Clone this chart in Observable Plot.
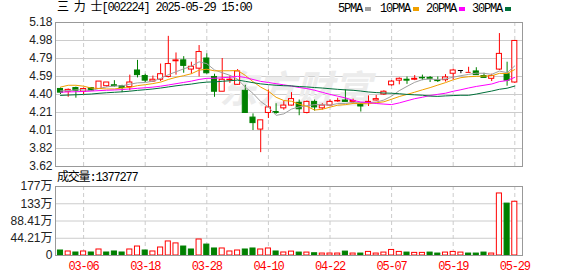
<!DOCTYPE html>
<html><head><meta charset="utf-8">
<script src="https://cdn.jsdelivr.net/npm/d3@7"></script>
<script src="https://cdn.jsdelivr.net/npm/@observablehq/plot@0.6"></script>
<style>
body{margin:0;background:#fff;}
#wrap{position:relative;width:578px;height:276px;overflow:hidden;background:#fff;}
#wrap svg{position:absolute;left:0;overflow:visible;}
.t{position:absolute;white-space:nowrap;font-family:"Liberation Mono","Noto Sans CJK SC",monospace;font-size:12px;line-height:12px;letter-spacing:-1.2px;color:#000;}
.sq{position:absolute;width:6px;height:4px;}
</style></head><body><div id="wrap"></div>
<script>
// ---- data ----
const dates = ["03-03","03-04","03-05","03-06","03-07","03-10","03-11","03-12","03-13","03-14","03-17","03-18","03-19","03-20","03-21","03-24","03-25","03-26","03-27","03-28","03-31",
"04-01","04-02","04-03","04-07","04-08","04-09","04-10","04-11","04-14","04-15","04-16","04-17","04-18","04-21","04-22","04-23","04-24","04-25","04-28","04-29","04-30",
"05-06","05-07","05-08","05-09","05-12","05-13","05-14","05-15","05-16","05-19","05-20","05-21","05-22","05-23","05-26","05-27","05-28","05-29"];
const open  = [4.46,4.43,4.47,4.43,4.47,4.46,4.49,4.50,4.49,4.48, 4.66,4.60,4.54,4.56,4.59,4.76,4.77,4.67,4.68,4.79, 4.59,4.43,4.555,4.505,4.44,4.15,4.02,4.20,4.21,4.25, 4.28,4.31,4.20,4.32,4.25,4.28,4.325,4.335,4.32,4.29, 4.31,4.335,4.40,4.50,4.55,4.56,4.56,4.58,4.58,4.555, 4.555,4.625,4.66,4.64,4.65,4.60,4.57,4.67,4.62,4.53];
const high  = [4.47,4.46,4.48,4.47,4.47,4.54,4.53,4.55,4.50,4.61, 4.77,4.62,4.60,4.73,5.03,4.85,4.81,4.75,4.93,4.84, 4.62,4.79,4.60,4.67,4.50,4.19,4.12,4.45,4.30,4.325, 4.42,4.34,4.33,4.34,4.30,4.34,4.36,4.45,4.35,4.30, 4.385,4.39,4.44,4.55,4.58,4.59,4.605,4.61,4.595,4.59, 4.615,4.675,4.66,4.695,4.69,4.63,4.62,5.06,4.75,4.98];
const low   = [4.40,4.37,4.36,4.40,4.44,4.46,4.48,4.48,4.42,4.44, 4.58,4.53,4.53,4.54,4.58,4.61,4.63,4.62,4.59,4.62, 4.37,4.43,4.52,4.50,4.20,4.01,3.77,4.14,4.185,4.23, 4.275,4.17,4.19,4.22,4.23,4.27,4.315,4.32,4.30,4.21, 4.27,4.33,4.39,4.49,4.505,4.51,4.55,4.55,4.53,4.53, 4.535,4.56,4.625,4.64,4.61,4.58,4.54,4.66,4.49,4.52];
const close = [4.42,4.45,4.44,4.46,4.44,4.54,4.53,4.49,4.47,4.53, 4.61,4.55,4.56,4.62,4.73,4.77,4.71,4.70,4.86,4.63, 4.43,4.56,4.56,4.65,4.20,4.09,4.12,4.26,4.20,4.28, 4.35,4.24,4.32,4.26,4.28,4.32,4.33,4.32,4.33,4.27, 4.32,4.35,4.43,4.54,4.57,4.55,4.57,4.575,4.57,4.545, 4.585,4.66,4.66,4.64,4.61,4.58,4.60,4.84,4.55,4.98];
const prevClose0 = 4.45;
// volume in 万 (10k)
const volume = [12.8,10.3,7.7,10.3,7.7,15.4,7.7,10.3,7.7,15.4, 23,12.8,10.3,20.5,36,31,23,15.4,41,28, 18,18,10.3,12.8,15.4,18,15.4,18,10.3,7.7, 10,7.5,7.5,5.8,5,5,5,10,5,5, 9.2,5,7.5,14.2,9.2,7.5,6.7,6.7,7.5,5, 7.5,9.2,7.5,5,5,7.5,5,159,133,137.7277];
// moving-average values for days before a full window exists
const ma5Head  = [4.44,4.44,4.45,4.45];
const ma10Head = [4.48,4.50,4.50,4.49,4.47,4.465,4.46,4.46,4.47];
const ma20Head = [4.425,4.428,4.430,4.433,4.437,4.442,4.446,4.449,4.453,4.460,4.467,4.473,4.480,4.490,4.503,4.517,4.531,4.545,4.563];
const ma30Head = [4.390,4.394,4.397,4.401,4.405,4.413,4.419,4.424,4.429,4.436,4.445,4.452,4.460,4.470,4.482,4.494,4.504,4.513,4.526,4.534,4.537,4.543,4.549,4.556,4.543,4.528,4.515,4.507,4.500];
const priceTicks = [5.18,4.985,4.79,4.595,4.40,4.205,4.01,3.815,3.62];
const priceTickLabels = ["5.18","4.98","4.79","4.59","4.40","4.21","4.01","3.82","3.62"];
const volTicks = [0,44.21,88.42,132.63,176.84];
const volTickLabels = ["0","44.21万","88.41万","133万","177万"];
const dateTickLabels = ["03-06","03-18","03-28","04-10","04-22","05-07","05-19","05-29"];
const maNames = ["5PMA","10PMA","20PMA","30PMA"];
const maColors = ["#a0a0a0","#f0a000","#ff00ff","#00703a"];
const titleText = "三 力 士[002224] 2025-05-29 15:00";
const volTitle = "成交量:1377277";

// ---- build ----
const RED = "#ff0000", GREEN = "#008000";
function movAvg(k, head){ return close.map((c,i)=> i < k-1 ? head[i] : d3.mean(close.slice(i-k+1,i+1))); }
const mas = [movAvg(5,ma5Head), movAvg(10,ma10Head), movAvg(20,ma20Head), movAvg(30,ma30Head)];
const rows = dates.map((d,i)=>{
  const prev = i ? close[i-1] : prevClose0, o = open[i], c = close[i];
  const col = c>o ? RED : c<o ? GREEN : (c===prev ? "#000000" : RED);
  return {i, d, o, h: high[i], l: low[i], c, v: volume[i], col,
    vcol: c>=prev ? RED : GREEN, top: Math.max(o,c), bot: Math.min(o,c)};
});
const gridIdx = dateTickLabels.map(t => dates.indexOf(t));
const xDomain = [-0.65, 60.0];
const hw = 0.33;
const fontAxis = "Liberation Sans, Noto Sans CJK SC, sans-serif";
const priceLab = new Map(priceTicks.map((v,i)=>[v, priceTickLabels[i]]));
const volLab = new Map(volTicks.map((v,i)=>[v, volTickLabels[i]]));

const maMarks = mas.map((m,k)=> Plot.line(rows, {x:"i", y:(d,i)=>m[i], stroke: maColors[k], strokeWidth:1}));

const price = Plot.plot({
  width:578, height:176, marginLeft:55, marginRight:56, marginTop:22, marginBottom:10,
  x:{domain:xDomain, axis:null}, y:{domain:[3.62,5.18], axis:null}, color:{type:"identity"},
  style:{background:"transparent"},
  marks:[
    Plot.ruleY(priceTicks.slice(1,-1), {stroke:"#cccccc"}),
    Plot.ruleX(gridIdx, {stroke:"#cccccc", strokeDasharray:"4,3"}),
    Plot.text(["东方财富"], {x:30.5, y:4.44, text:d=>d, fontSize:38, fontWeight:"bold", fontStyle:"italic", fill:"#ececec", fontFamily:"Noto Sans CJK SC"}),
    Plot.ruleX(rows, {x:"i", y1:"l", y2:"h", stroke:"col"}),
    Plot.rect(rows.filter(r=>r.o!==r.c), {x1:r=>r.i-hw, x2:r=>r.i+hw, y1:"bot", y2:"top", fill:r=>r.col===RED?"#ffffff":r.col, stroke:"col"}),
    Plot.ruleY(rows.filter(r=>r.o===r.c), {y:"c", x1:r=>r.i-hw, x2:r=>r.i+hw, stroke:"col"}),
    ...maMarks,
    Plot.frame({stroke:"#999999"}),
    Plot.axisY(priceTicks, {tickFormat:d=>priceLab.get(d), tickSize:0, tickPadding:3, fontSize:12, fill:"#222", fontFamily:fontAxis, label:null})
  ]
});
price.style.top = "0px";

const vol = Plot.plot({
  width:578, height:96, marginLeft:55, marginRight:56, marginTop:6, marginBottom:21,
  x:{domain:xDomain, axis:null}, y:{domain:[0,176.84], axis:null}, color:{type:"identity"},
  style:{background:"transparent"},
  marks:[
    Plot.ruleY(volTicks.slice(1,-1), {stroke:"#cccccc"}),
    Plot.ruleX(gridIdx, {stroke:"#cccccc", strokeDasharray:"4,3"}),
    Plot.rect(rows, {x1:r=>r.i-hw, x2:r=>r.i+hw, y1:0, y2:"v", fill:r=>r.vcol===RED?"#ffffff":r.vcol, stroke:"vcol"}),
    Plot.frame({stroke:"#999999"}),
    Plot.axisY(volTicks, {tickFormat:d=>volLab.get(d), tickSize:0, tickPadding:3, fontSize:12, fill:"#222", fontFamily:fontAxis, label:null}),
    Plot.axisX(gridIdx, {tickFormat:i=>dates[i], tickSize:0, tickPadding:6, fontSize:12, fill:"#ff0000", fontFamily:"Liberation Mono, monospace", label:null})
  ]
});
vol.style.top = "180px";
vol.querySelectorAll('[aria-label="x-axis tick label"] text').forEach(t=>t.style.letterSpacing="-1.2px");

const wrap = document.getElementById("wrap");
wrap.appendChild(price);
wrap.appendChild(vol);

function addText(txt, left, top){ const s=document.createElement("div"); s.className="t"; s.textContent=txt; s.style.left=left+"px"; s.style.top=top+"px"; wrap.appendChild(s); }
addText(titleText, 57, 2);
addText(volTitle, 57, 172);
const legX = [338, 380, 426, 472], sqX = [365, 413, 459, 505];
maNames.forEach((n,k)=>{
  addText(n, legX[k], 3);
  const q=document.createElement("div"); q.className="sq"; q.style.left=sqX[k]+"px"; q.style.top="7px"; q.style.background=maColors[k]; wrap.appendChild(q);
});
</script></body></html>
